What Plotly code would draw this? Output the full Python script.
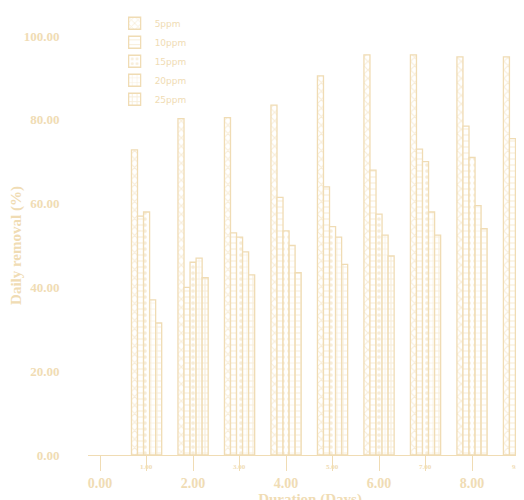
import plotly.graph_objects as go

days = [1, 2, 3, 4, 5, 6, 7, 8, 9]
series_names = ["5ppm", "10ppm", "15ppm", "20ppm", "25ppm"]
removal_5 = [72.8, 80.3, 80.5, 83.5, 90.5, 95.5, 95.5, 95.0, 95.0]
removal_10 = [57.0, 40.0, 53.0, 61.5, 64.0, 68.0, 73.0, 78.5, 75.5]
removal_15 = [58.0, 46.0, 52.0, 53.5, 54.5, 57.5, 70.0, 71.0, 66.0]
removal_20 = [37.0, 47.0, 48.5, 50.0, 52.0, 52.5, 58.0, 59.5, 64.0]
removal_25 = [31.5, 42.3, 43.0, 43.5, 45.5, 47.5, 52.5, 54.0, 54.5]
x_tick_vals = [0, 1, 2, 3, 4, 5, 6, 7, 8, 9]
x_tick_text = ["0.00", "1.00", "2.00", "3.00", "4.00", "5.00", "6.00", "7.00", "8.00", "9.00"]
y_tick_vals = [0, 20, 40, 60, 80, 100]
y_tick_text = ["0.00", "20.00", "40.00", "60.00", "80.00", "100.00"]

col = "#f0dcb4"
shapes = ["x", "-", ".", "+", "+"]
solid = [0.35, 0.2, 0.3, 0.2, 0.35]
fig = go.Figure()
for name, vals, shp, sol in zip(series_names, [removal_5, removal_10, removal_15, removal_20, removal_25], shapes, solid):
    fig.add_trace(go.Bar(
        x=days, y=vals, name=name,
        marker=dict(color="white", line=dict(color=col, width=1.3),
                    pattern=dict(shape=shp, fgcolor=col, bgcolor="white", size=6, solidity=sol)),
    ))

# even ticks as axis labels, odd ones as small annotations just under the axis
ticktext = [t if v % 2 == 0 else "" for v, t in zip(x_tick_vals, x_tick_text)]
for v, t in zip(x_tick_vals, x_tick_text):
    if v % 2:
        fig.add_annotation(x=v, y=-0.042, xref="x", yref="paper", text=f"<b>{t}</b>", showarrow=False,
                           font=dict(family="Liberation Serif", size=7, color=col))

font = dict(family="Liberation Serif", color=col, size=13)
fig.update_layout(
    width=524, height=500, barmode="group", bargap=0.35, bargroupgap=0,
    plot_bgcolor="white", paper_bgcolor="white",
    margin=dict(l=80, r=0, t=28, b=53),
    font=font,
    legend=dict(x=0.06, y=1.065, xanchor="left", yanchor="top", tracegroupgap=9,
                font=dict(family="DejaVu Sans", size=9, color=col), itemwidth=30),
    showlegend=True,
)
fig.update_xaxes(range=[-0.26, 9.29], tickvals=x_tick_vals, ticktext=[f"<b>{t}</b>" if t else "" for t in ticktext],
                 ticks="outside", ticklen=15, tickcolor=col, showline=True, linecolor=col,
                 showgrid=False, zeroline=False, automargin=False,
                 title=dict(text="<b>Duration (Days)</b>", standoff=2, font=dict(size=15)),
                 tickfont=dict(family="Liberation Serif", size=14, color=col))
fig.update_yaxes(range=[0, 100], tickvals=y_tick_vals, ticktext=[f"<b>{t}</b>" for t in y_tick_text],
                 ticks="outside", ticklen=25, tickcolor="white", showline=False, showgrid=False, zeroline=False,
                 automargin=False,
                 title=dict(text="<b>Daily removal (%)</b>", standoff=0, font=dict(size=15)))
fig.write_html("out.html")
